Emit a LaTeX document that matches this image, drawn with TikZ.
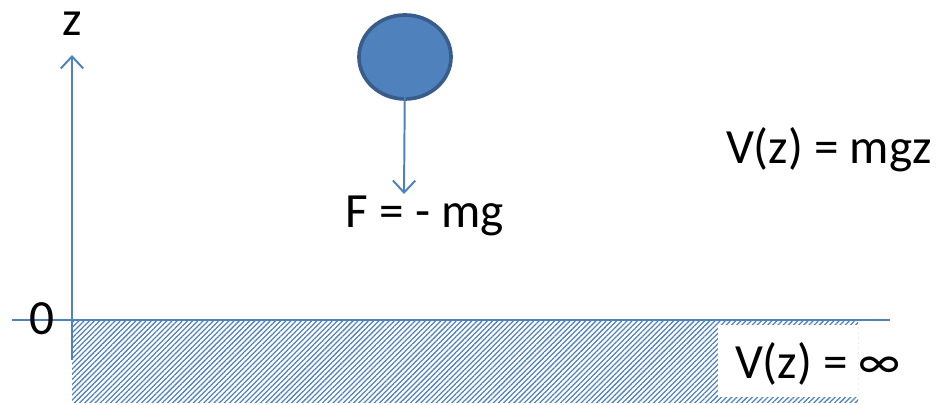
\documentclass[tikz,border=0pt]{standalone}
\usepackage{fontspec}
\setmainfont{Carlito}
\usepackage{tikz}
\usetikzlibrary{arrows.meta,positioning,shapes.geometric,patterns.meta}
\definecolor{axblue}{HTML}{4F81BD}
\definecolor{ballrim}{HTML}{385D8A}

\begin{document}
\begin{tikzpicture}[x=0.025cm, y=-0.025cm, every node/.style={font=\fontsize{35}{40}\selectfont, inner sep=0pt},
  ax/.style={draw=axblue, line width=1.4pt},
  vec/.style={ax, -{Straight Barb[length=3mm,width=5.6mm,line width=1.4pt]}},
  ball/.style={ellipse, draw=ballrim, fill=axblue, line width=2.6pt, minimum width=2.3cm, minimum height=2.1cm},
  hatch/.style={pattern={Lines[angle=45,distance=2.6pt,line width=0.9pt]}, pattern color=axblue}]
\useasboundingbox (0,0) rectangle (939,405);
% floor region
\fill[hatch] (72,320) rectangle (858,402);
\node[fill=white, minimum width=3.5cm, minimum height=1.8cm] (vinf) at (788,361) {};
\node (vinftxt) at (818,364) {V(z) = ∞};
% axes
\coordinate (o) at (72,360);
\coordinate (ztop) at (72,55);
\coordinate (left) at (12,320);
\coordinate (right) at (890,320);
\draw[vec] (o) -- (ztop);
\draw[ax] (left) -- (right);
\node (zlab) at (72,24) {z};
\node (zero) at (42,319) {0};
% ball and force
\node[ball] (ball) at (405,57) {};
\coordinate (ftip) at (404,194);
\draw[vec] ([yshift=-0.25cm]ball.center) -- (ftip);
\node (force) at (425,216) {F = - mg};
\node (vgrav) at (829,150) {V(z) = mgz};
\end{tikzpicture}
\end{document}
